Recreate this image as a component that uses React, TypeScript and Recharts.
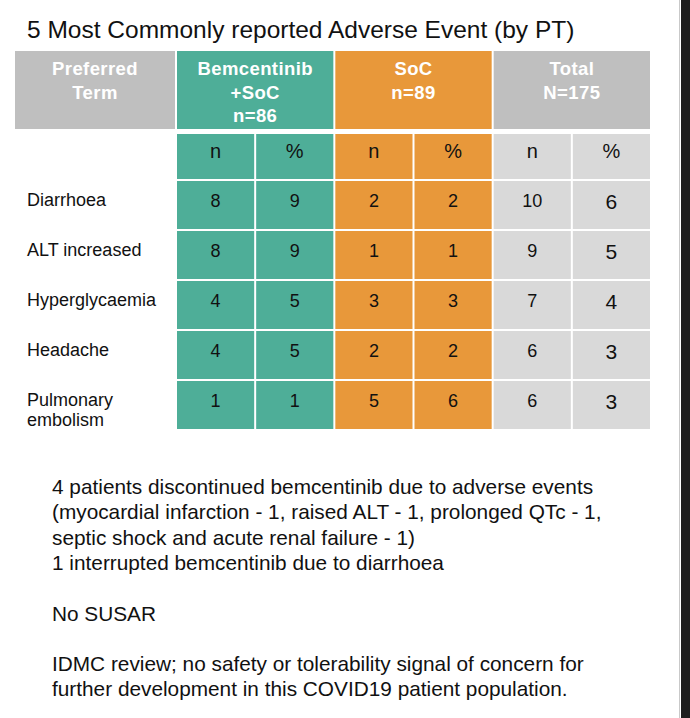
import { Scatter, ScatterChart, XAxis, YAxis } from "recharts";

// table data
const terms = ["Diarrhoea", "ALT increased", "Hyperglycaemia", "Headache", "Pulmonary embolism"];
const bemN = [8, 8, 4, 4, 1];
const bemPct = [9, 9, 5, 5, 1];
const socN = [2, 1, 3, 2, 5];
const socPct = [2, 1, 3, 2, 6];
const totN = [10, 9, 7, 6, 6];
const totPct = [6, 5, 4, 3, 3];

const columns = ["bem_n", "bem_pct", "soc_n", "soc_pct", "tot_n", "tot_pct"];
const columnLabels = ["n", "%", "n", "%", "n", "%"];
const groupLabels = [
  ["Bemcentinib", "+SoC", "n=86"],
  ["SoC", "n=89"],
  ["Total", "N=175"],
];
const termHeader = ["Preferred", "Term"];

const title = "5 Most Commonly reported Adverse Event (by PT)";
const notes = [
  "4 patients discontinued bemcentinib due to adverse events",
  "(myocardial infarction - 1, raised ALT - 1, prolonged QTc - 1,",
  "septic shock and acute renal failure - 1)",
  "1 interrupted  bemcentinib due to diarrhoea",
  "",
  "No SUSAR",
  "",
  "IDMC review; no safety or tolerability signal of concern for",
  "further  development in this COVID19 patient population.",
];

const seriesByColumn = [bemN, bemPct, socN, socPct, totN, totPct];
const cells = terms.flatMap((term, r) =>
  columns.map((col, c) => ({ term, col, value: seriesByColumn[c][r], c }))
);

const FONT = "'Liberation Sans', Arial, Helvetica, sans-serif";
const TEAL = "#4EAE98";
const ORANGE = "#E8983A";
const GREY_HEAD = "#BFBFBF";
const GREY_CELL = "#D9D9D9";
const groupHeadFill = [TEAL, ORANGE, GREY_HEAD];
const groupCellFill = [TEAL, ORANGE, GREY_CELL];

const CHART_W = 690;
const CHART_H = 440;
const MARGIN = { top: 51, right: 38, bottom: 9, left: 15 };
const Y_AXIS_W = 162;
const HEAD_H = 130;
const PLOT_W = CHART_W - MARGIN.left - MARGIN.right - Y_AXIS_W;
const PLOT_H = CHART_H - MARGIN.top - MARGIN.bottom - HEAD_H;
const COL_W = PLOT_W / columns.length;
const ROW_H = PLOT_H / terms.length;
const GAP = 2;

function BodyCell(props: any) {
  const { cx, cy, payload } = props;
  if (cx == null || cy == null) return null;
  const g = Math.floor(payload.c / 2);
  const big = payload.col === "tot_pct";
  return (
    <g>
      <rect
        x={cx - COL_W / 2}
        y={cy - ROW_H / 2}
        width={COL_W - GAP}
        height={ROW_H - GAP}
        fill={groupCellFill[g]}
      />
      <text
        x={cx - GAP / 2}
        y={cy + (big ? 3 : 1)}
        textAnchor="middle"
        fontFamily={FONT}
        fontSize={big ? 21 : 18}
        fill="#111"
      >
        {payload.value}
      </text>
    </g>
  );
}

function ColumnTick(props: any) {
  const { x, y, payload } = props;
  const idx = columns.indexOf(payload.value);
  const g = Math.floor(idx / 2);
  const left = x - COL_W / 2;
  return (
    <g>
      {idx % 2 === 0 && (
        <g>
          <rect
            x={left}
            y={y - HEAD_H}
            width={COL_W * 2 - GAP}
            height={78}
            fill={groupHeadFill[g]}
          />
          {groupLabels[g].map((line, i) => (
            <text
              key={i}
              x={left + COL_W - GAP / 2}
              y={y - 106 + i * 23.5}
              textAnchor="middle"
              fontFamily={FONT}
              fontWeight="bold"
              fontSize={18.5}
              letterSpacing={0.4}
              fill="#fff"
            >
              {line}
            </text>
          ))}
        </g>
      )}
      <rect
        x={left}
        y={y - 47}
        width={COL_W - GAP}
        height={45}
        fill={groupCellFill[g]}
      />
      <text
        x={x - GAP / 2}
        y={y - 23}
        textAnchor="middle"
        fontFamily={FONT}
        fontSize={20}
        fill="#111"
      >
        {columnLabels[idx]}
      </text>
    </g>
  );
}

function TermTick(props: any) {
  const { y, payload } = props;
  const label: string = payload.value;
  const lines = label.length > 15 ? label.split(" ") : [label];
  return (
    <text x={27} y={y} fontFamily={FONT} fontSize={18} fill="#111">
      {lines.map((line, i) => (
        <tspan key={i} x={27} dy={i === 0 ? 0 : 20}>
          {line}
        </tspan>
      ))}
    </text>
  );
}

function TermHeader(props: any) {
  const { viewBox } = props;
  const x = viewBox?.x ?? MARGIN.left;
  const top = (viewBox?.y ?? MARGIN.top + HEAD_H) - HEAD_H;
  const w = (viewBox?.width ?? Y_AXIS_W) - GAP;
  return (
    <g>
      <rect x={x} y={top} width={w} height={78} fill={GREY_HEAD} />
      {termHeader.map((line, i) => (
        <text
          key={i}
          x={x + w / 2}
          y={top + 24 + i * 23.5}
          textAnchor="middle"
          fontFamily={FONT}
          fontWeight="bold"
          fontSize={18.5}
          letterSpacing={0.4}
          fill="#fff"
        >
          {line}
        </text>
      ))}
    </g>
  );
}

export default function App() {
  return (
    <div
      style={{
        position: "absolute",
        left: 0,
        top: 0,
        width: 690,
        height: 718,
        background: "#fff",
        overflow: "hidden",
      }}
    >
      <svg width={690} height={718} style={{ position: "absolute", left: 0, top: 0 }}>
        <text x={27} y={38} fontFamily={FONT} fontSize={24.5} fill="#111">
          {title}
        </text>
        {notes.map((line, i) => (
          <text key={i} x={52} y={494 + i * 25.3} fontFamily={FONT} fontSize={20.8} fill="#111">
            {line}
          </text>
        ))}
      </svg>
      <div style={{ position: "absolute", left: 0, top: 0 }}>
        <ScatterChart width={CHART_W} height={CHART_H} margin={MARGIN}>
          <XAxis
            xAxisId={0}
            type="category"
            dataKey="col"
            orientation="top"
            height={HEAD_H}
            allowDuplicatedCategory={false}
            interval={0}
            tickLine={false}
            axisLine={false}
            tickSize={0}
            tickMargin={0}
            tick={<ColumnTick />}
          />
          <YAxis
            yAxisId={0}
            type="category"
            dataKey="term"
            reversed
            width={Y_AXIS_W}
            allowDuplicatedCategory={false}
            interval={0}
            tickLine={false}
            axisLine={false}
            tick={<TermTick />}
            label={<TermHeader />}
          />
          <Scatter data={cells} shape={<BodyCell />} isAnimationActive={false} />
        </ScatterChart>
      </div>
      <div
        style={{
          position: "absolute",
          left: 679,
          top: 0,
          width: 1,
          height: 718,
          background: "#c9c9c9",
        }}
      />
      <div
        style={{
          position: "absolute",
          left: 681,
          top: 0,
          width: 9,
          height: 718,
          background: "#1d1d1d",
        }}
      />
    </div>
  );
}
